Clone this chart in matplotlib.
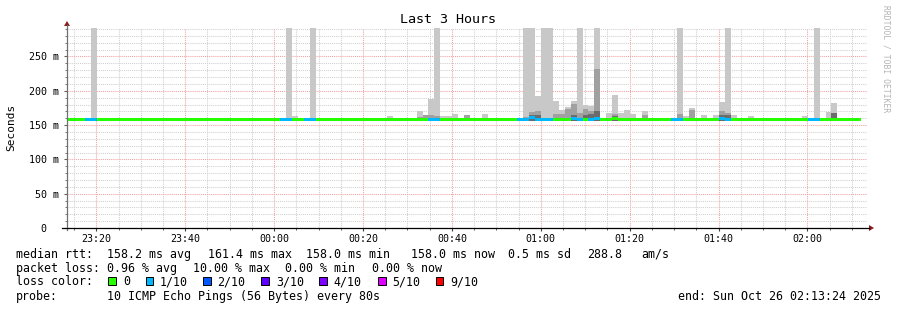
import matplotlib
matplotlib.use('Agg')
import matplotlib.pyplot as plt
from matplotlib.lines import Line2D
from matplotlib.patches import Polygon, Rectangle
import numpy as np

# 80 s steps, starting 23:13:24
STEP_SEC = 80

# median rtt per step (ms)
median_ms = [
    158.0, 158.0, 158.0, 158.0, 158.2, 158.0, 158.0, 158.0, 158.0, 158.0,
    158.0, 158.0, 158.0, 158.0, 158.0, 158.0, 158.0, 158.0, 158.0, 158.0,
    158.0, 158.0, 158.0, 158.0, 158.0, 158.0, 158.0, 158.0, 158.0, 158.0,
    158.0, 158.0, 158.0, 158.0, 158.0, 158.0, 158.0, 158.2, 158.0, 158.0,
    158.0, 158.2, 158.0, 158.0, 158.0, 158.0, 158.0, 158.0, 158.0, 158.0,
    158.0, 158.0, 158.0, 158.0, 158.0, 158.0, 158.0, 158.0, 158.0, 158.0,
    158.0, 158.2, 158.4, 158.0, 158.0, 158.0, 158.0, 158.0, 158.0, 158.0,
    158.0, 158.0, 158.0, 158.0, 158.0, 158.0, 158.0, 158.6, 161.4, 158.6,
    158.0, 158.0, 158.0, 158.0, 158.2, 159.0, 158.0, 158.4, 158.8, 160.2,
    157.6, 158.0, 159.5, 158.0, 158.0, 158.0, 158.0, 158.0, 158.0, 158.0,
    158.0, 158.0, 158.0, 158.0, 158.0, 158.0, 158.0, 158.0, 158.0, 158.0,
    159.6, 158.4, 158.0, 158.0, 158.0, 158.0, 158.0, 158.0, 158.0, 158.0,
    158.0, 158.0, 158.0, 158.0, 158.0, 158.0, 158.0, 158.0, 158.0, 158.6,
    158.0, 158.0, 158.0, 158.0,
]

# lost pings out of 10 per step
loss = [
    0, 0, 0, 1, 1, 0, 0, 0, 0, 0,
    0, 0, 0, 0, 0, 0, 0, 0, 0, 0,
    0, 0, 0, 0, 0, 0, 0, 0, 0, 0,
    0, 0, 0, 0, 0, 0, 1, 1, 0, 0,
    1, 1, 0, 0, 0, 0, 0, 0, 0, 0,
    0, 0, 0, 0, 0, 0, 0, 0, 0, 0,
    0, 1, 1, 0, 0, 0, 0, 0, 0, 0,
    0, 0, 0, 0, 0, 0, 1, 1, 1, 1,
    1, 1, 0, 0, 0, 1, 1, 0, 1, 1,
    0, 0, 0, 0, 0, 0, 0, 0, 0, 0,
    0, 0, 1, 1, 0, 0, 0, 0, 0, 0,
    1, 1, 0, 0, 0, 0, 0, 0, 0, 0,
    0, 0, 0, 0, 0, 1, 1, 0, 0, 0,
    0, 0, 0, 0,
]

# smoke (ping spread) per step: top of light, medium and dark bands (ms, 0 = none)
smoke_step = [4, 7, 16, 28, 37, 38, 41, 54, 58, 59, 60, 61, 62, 63, 64, 65, 67, 70, 74,
              77, 78, 79, 80, 81, 82, 83, 84, 85, 86, 87, 88, 89, 91, 92, 93, 94, 95, 96, 97,
              103, 104, 105, 107, 109, 110, 111, 112, 115, 124, 126, 128, 129, 130, 131]
smoke_max = [300, 161, 161, 161, 300, 163, 300, 163, 161, 170, 165, 188, 300, 163, 163, 166, 165, 166, 161,
             300, 300, 192, 300, 300, 185, 172, 177, 185, 300, 179, 178, 300, 168, 194, 168, 172, 166, 161, 170,
             300, 163, 175, 165, 165, 183, 300, 165, 163, 163, 300, 169, 182, 161, 161]
smoke_mid = [0, 0, 0, 0, 0, 0, 0, 0, 0, 162, 164, 165, 163, 0, 0, 0, 164, 0, 0,
             162, 169, 170, 160, 0, 166, 166, 174, 181, 167, 173, 170, 232, 0, 166, 0, 0, 0, 0, 165,
             166, 0, 172, 161, 0, 170, 168, 0, 0, 0, 0, 0, 0, 0, 0]
smoke_dark = [0, 0, 0, 0, 0, 0, 0, 0, 0, 0, 0, 0, 0, 0, 0, 0, 0, 0, 0,
              0, 165, 164, 0, 0, 0, 0, 0, 165, 0, 164, 166, 170, 0, 163, 0, 0, 0, 0, 0,
              0, 0, 0, 0, 0, 165, 164, 0, 0, 0, 0, 0, 168, 0, 0]

loss_levels = [0, 1, 2, 3, 4, 5, 9]
loss_labels = ['0', '1/10', '2/10', '3/10', '4/10', '5/10', '9/10']
loss_colors = ['#26ff00', '#00b8ff', '#0059ff', '#5e00ff', '#7e00ff', '#dd00ff', '#ff0000']

x_major_labels = ['23:20', '23:40', '00:00', '00:20', '00:40', '01:00', '01:20', '01:40', '02:00']
y_major = [0, 50, 100, 150, 200, 250]
y_labels = ['0  ', '50 m', '100 m', '150 m', '200 m', '250 m']

W, H = 897, 310
SPAN = 10800          # 3 hours in seconds
FIRST_TICK = 396      # 23:20 is 6:36 after start
Y_TOP = 291.5
SMOKE_BASE = 156.5
LINE_MS = 3 * Y_TOP / 200   # 3 px thick median line, in ms
MONO = 'DejaVu Sans Mono'


def fx(x):
    return x / W


def fy(y):
    return 1 - y / H


fig = plt.figure(figsize=(W / 100, H / 100), dpi=100)
ax = fig.add_axes([fx(67), fy(228), 800 / W, 200 / H])
ax.set_xlim(0, SPAN)
ax.set_ylim(0, Y_TOP)

# smoke
steps = np.array(smoke_step)
x0 = steps * STEP_SEC
smax = np.array(smoke_max, dtype=float)
smid = np.array(smoke_mid, dtype=float)
sdark = np.array(smoke_dark, dtype=float)
ax.bar(x0, smax - SMOKE_BASE, bottom=SMOKE_BASE, width=STEP_SEC, align='edge',
       color='#c8c8c8', linewidth=0, zorder=2)
m = smid > 0
ax.bar(x0[m], smid[m] - SMOKE_BASE, bottom=SMOKE_BASE, width=STEP_SEC, align='edge',
       color='#a0a0a0', linewidth=0, zorder=2.1)
d = sdark > 0
ax.bar(x0[d], sdark[d] - SMOKE_BASE, bottom=SMOKE_BASE, width=STEP_SEC, align='edge',
       color='#6c6c6c', linewidth=0, zorder=2.2)

# median line coloured by loss (thin bars so segments butt exactly)
idx = np.arange(len(median_ms))
cmap = dict(zip(loss_levels, loss_colors))
ax.bar(idx * STEP_SEC, LINE_MS, bottom=np.array(median_ms) - LINE_MS / 2,
       width=STEP_SEC, align='edge', color=[cmap[l] for l in loss],
       linewidth=0, zorder=4)

# grid
x_major = [FIRST_TICK + 1200 * k for k in range(len(x_major_labels))]
x_minor = [t for t in range(FIRST_TICK % 300, SPAN, 300) if t not in x_major]
y_minor = [v for v in range(10, 291, 10) if v % 50]
ax.set_xticks(x_major)
ax.set_xticklabels(x_major_labels, family=MONO, fontsize=7.2)
ax.set_xticks(x_minor, minor=True)
ax.set_yticks(y_major)
ax.set_yticklabels(y_labels, family=MONO, fontsize=7.2)
ax.set_yticks(y_minor, minor=True)
ax.set_axisbelow(True)
ax.grid(which='minor', color='#d0d0d0', linestyle=(0, (1, 1)), linewidth=0.75)
ax.grid(which='major', color='#f4a0a0', linestyle=(0, (1, 1)), linewidth=0.75)
ax.tick_params(axis='x', which='major', length=2.5, pad=2, color='#404040')
ax.tick_params(axis='x', which='minor', length=1.5, color='#404040')
ax.tick_params(axis='y', which='major', length=2, pad=3.5, color='#606060')
ax.tick_params(axis='y', which='minor', length=1.5, color='#606060')
for s in ax.spines.values():
    s.set_visible(False)

# axis lines and arrows
fig.add_artist(Line2D([fx(67), fx(67)], [fy(230), fy(25)], color='#707070', lw=0.9))
fig.add_artist(Line2D([fx(62), fx(869)], [fy(228), fy(228)], color='black', lw=0.9))
fig.add_artist(Polygon([[fx(64), fy(26)], [fx(70), fy(26)], [fx(67), fy(21)]],
                       closed=True, color='#8b1a1a', lw=0))
fig.add_artist(Polygon([[fx(869), fy(225)], [fx(869), fy(231)], [fx(874), fy(228)]],
                       closed=True, color='#8b1a1a', lw=0))

# title, axis label, watermark
fig.text(fx(448), fy(19.5), 'Last 3 Hours', family=MONO, fontsize=9.6,
         ha='center', va='center')
fig.text(fx(11), fy(127), 'Seconds', family=MONO, fontsize=8, rotation=90,
         ha='center', va='center')
fig.text(fx(886), fy(5), 'RRDTOOL / TOBI OETIKER', family=MONO, fontsize=5.8,
         rotation=270, ha='center', va='top', color='#b4b4b4')

# legend block
fs = 8.35
rows = [254.3, 268.3, 281.7, 296.5]
row1 = [(16, 'median rtt:'), (107.3, '158.2 ms avg'), (208.3, '161.4 ms max'),
        (306, '158.0 ms min'), (410.7, '158.0 ms now'), (507.7, '0.5 ms sd'),
        (586.7, '288.8'), (641.7, 'am/s')]
row2 = [(16, 'packet loss:'), (107.3, '0.96 % avg'), (193.3, '10.00 % max'),
        (285, '0.00 % min'), (372.3, '0.00 % now')]
for x, s in row1:
    fig.text(fx(x), fy(rows[0]), s, family=MONO, fontsize=fs, va='center')
for x, s in row2:
    fig.text(fx(x), fy(rows[1]), s, family=MONO, fontsize=fs, va='center')

fig.text(fx(16), fy(rows[2]), 'loss color:', family=MONO, fontsize=fs, va='center')
sq_x = [108.3, 145.7, 203.3, 261, 319.3, 378.3, 435.7]
lab_x = [123.3, 160, 217.3, 276, 333.3, 392.3, 450]
for sx, lx, c, lab in zip(sq_x, lab_x, loss_colors, loss_labels):
    fig.add_artist(Rectangle((fx(sx), fy(285)), 7.5 / W, 8 / H, facecolor=c,
                             edgecolor='black', lw=0.7, transform=fig.transFigure))
    fig.text(fx(lx), fy(rows[2]), lab, family=MONO, fontsize=fs, va='center')

fig.text(fx(16), fy(rows[3]), 'probe:', family=MONO, fontsize=fs, va='center')
fig.text(fx(107.3), fy(rows[3]), '10 ICMP Echo Pings (56 Bytes) every 80s',
         family=MONO, fontsize=fs, va='center')
fig.text(fx(881), fy(rows[3]), 'end: Sun Oct 26 02:13:24 2025',
         family=MONO, fontsize=fs, va='center', ha='right')

fig.savefig('out.png', dpi=100, facecolor='white')
